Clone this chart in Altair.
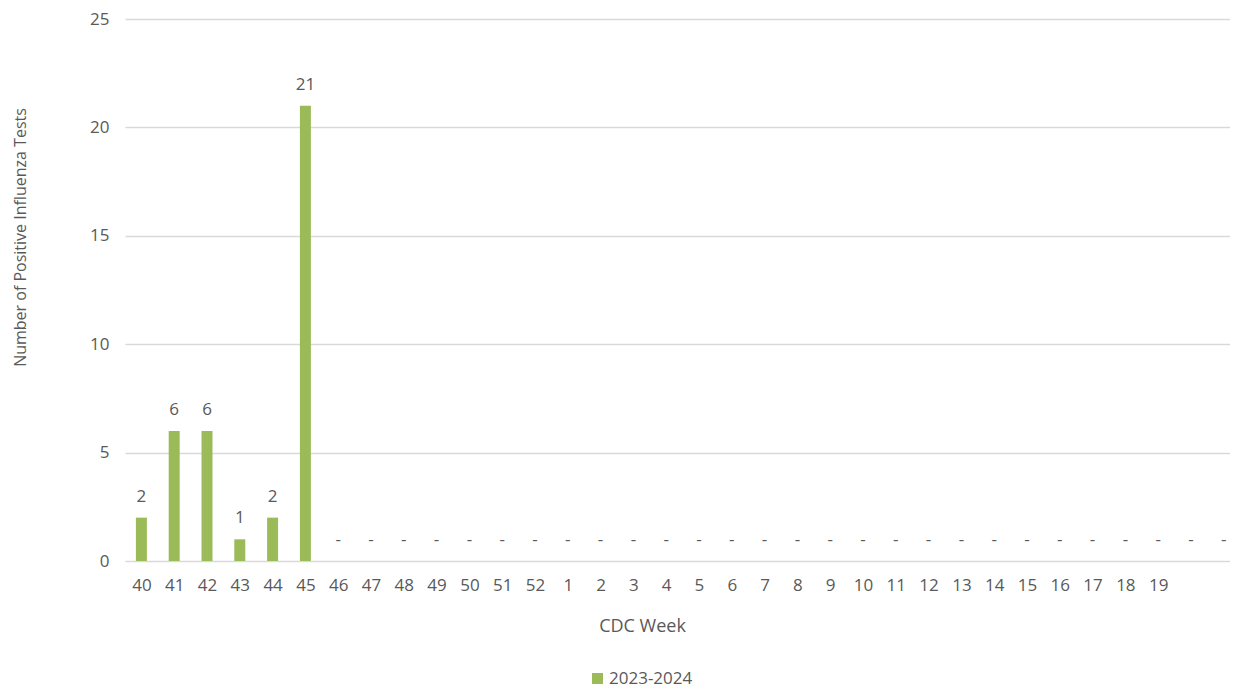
import altair as alt
import pandas as pd

# CDC weeks shown on the axis, plus two unlabeled trailing slots
weeks = ["40", "41", "42", "43", "44", "45", "46", "47", "48", "49", "50", "51", "52",
         "1", "2", "3", "4", "5", "6", "7", "8", "9", "10", "11", "12", "13", "14",
         "15", "16", "17", "18", "19"]
extra_slots = ["", ""]
counts = [2, 6, 6, 1, 2, 21]
season = "2023-2024"

slots = weeks + extra_slots
rows = []
for i, s in enumerate(slots):
    v = counts[i] if i < len(counts) else None
    rows.append({
        "idx": i,
        "week": s,
        "count": v,
        "ypos": v if v is not None else 0,
        "lbl": str(v) if v is not None else "-",
        "season": season,
    })
df = pd.DataFrame(rows)

FONT = "Open Sans"
GREY = "#595959"
PLOT_W = 1105

week_array = "[" + ",".join("'" + w + "'" for w in weeks) + "]"
x_scale = alt.Scale(domain=[-0.5, 33.19], nice=False, zero=False, padding=0)

x_axis = alt.Axis(
    title="CDC Week",
    values=list(range(len(weeks))),
    labelExpr=week_array + "[datum.value]",
    labelAngle=0,
    labelPadding=16,
    labelFlush=False,
    labelOverlap=False,
    labelSeparation=0,
    titlePadding=24,
    titleFontSize=18,
    titleX=517,
    domain=False,
    ticks=False,
    grid=False,
)

y_scale = alt.Scale(domain=[0, 25], nice=False)

bars = alt.Chart(df).transform_filter("datum.count != null").mark_bar(size=11).encode(
    x=alt.X("idx:Q", scale=x_scale, axis=x_axis),
    y=alt.Y(
        "count:Q",
        scale=y_scale,
        axis=alt.Axis(
            title="Number of Positive Influenza Tests",
            values=[0, 5, 10, 15, 20, 25],
            domain=False,
            ticks=False,
            labelPadding=16,
            gridColor="#d9d9d9",
            gridWidth=1.3,
            titleX=-105,
            titleY=218,
            titleBaseline="middle",
            titleAngle=270,
            titleFontSize=16,
        ),
    ),
    color=alt.Color(
        "season:N",
        scale=alt.Scale(domain=[season], range=["#9BBB59"]),
        legend=alt.Legend(
            title=None,
            orient="none",
            legendX=464,
            legendY=651,
            padding=0,
            symbolType="square",
            symbolSize=121,
            symbolStrokeWidth=0,
            labelFontSize=17,
            labelFont=FONT,
            labelColor=GREY,
            labelOffset=3,
        ),
    ),
)

labels = alt.Chart(df).mark_text(
    dy=-21, baseline="middle", align="center", font=FONT, fontSize=17, color=GREY
).encode(
    x=alt.X("idx:Q", scale=x_scale, axis=x_axis),
    y=alt.Y("ypos:Q", scale=y_scale),
    text="lbl:N",
)

chart = (
    alt.layer(bars, labels)
    .properties(width=PLOT_W, height=542, padding={"left": 4, "top": 2, "right": 0, "bottom": 0})
    .configure(background="white")
    .configure_view(stroke=None)
    .configure_axis(
        labelFont=FONT,
        labelFontSize=17,
        labelColor=GREY,
        labelOverlap=False,
        titleFont=FONT,
        titleColor=GREY,
        titleFontWeight="normal",
    )
)

chart.save("out.html", embed_options={"renderer": "svg", "actions": False})
